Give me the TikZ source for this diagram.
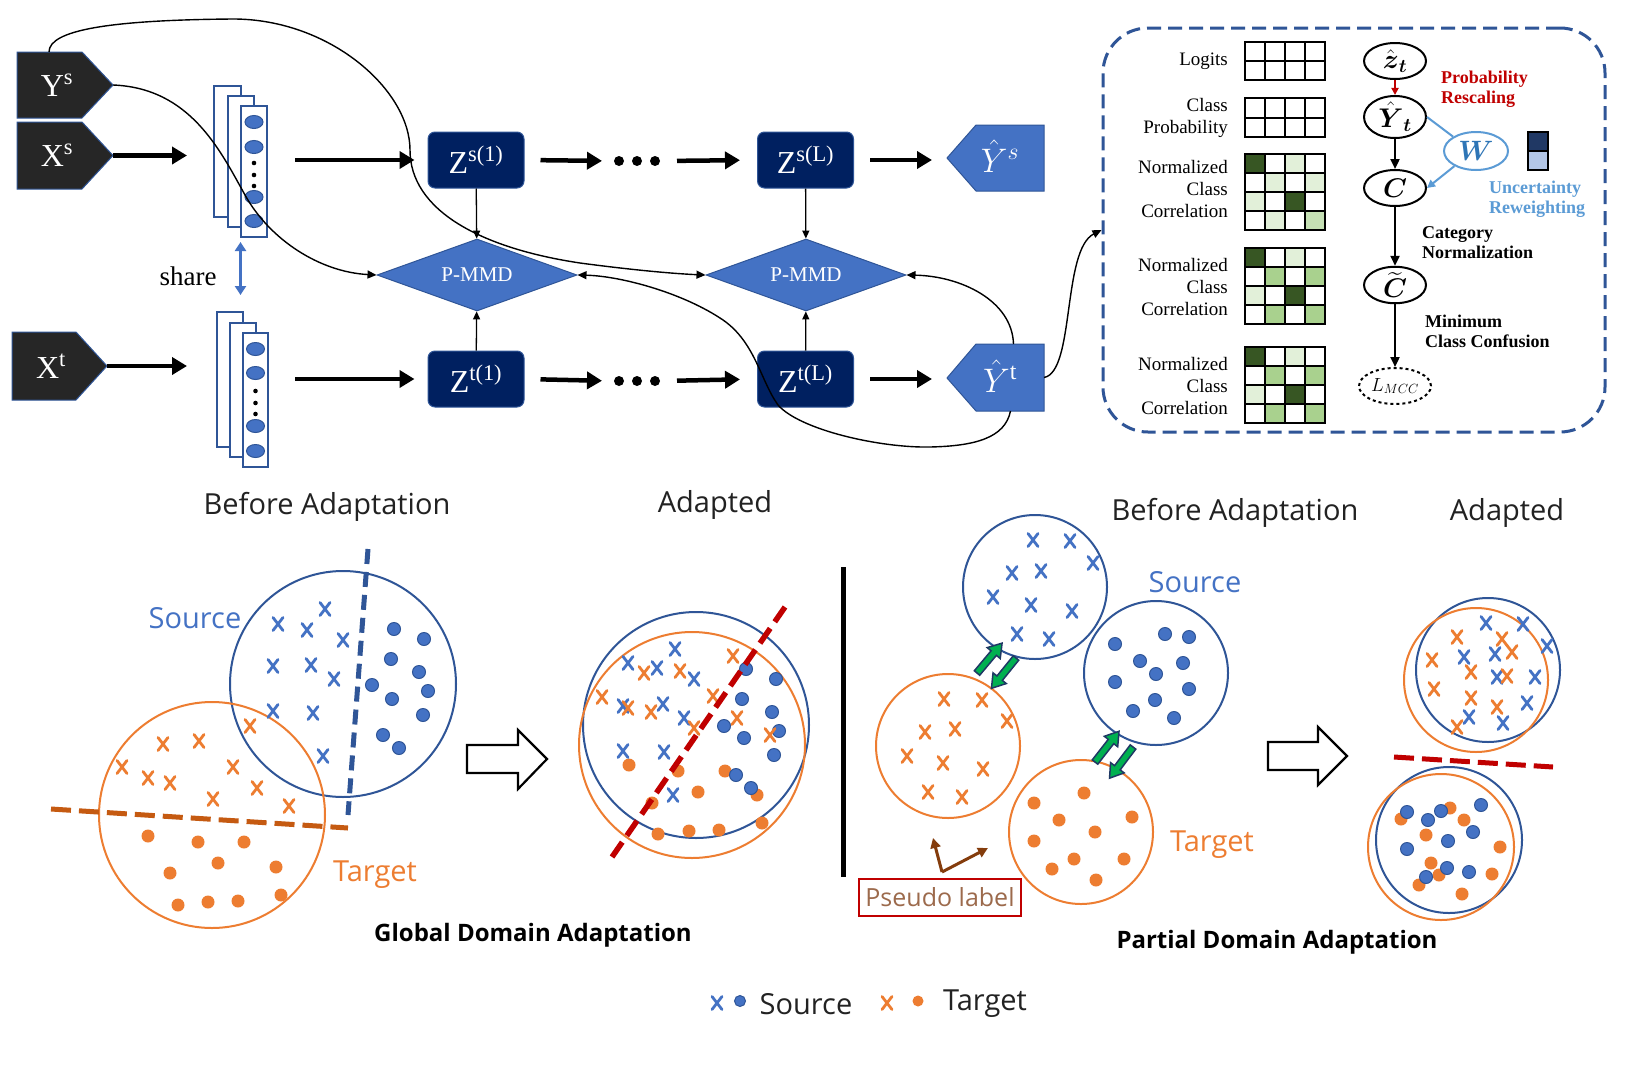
\RequirePackage{fix-cm}
\documentclass[tikz,border=0pt]{standalone}
\usepackage{amsmath}
\usepackage{fontspec}
\setmainfont{Liberation Serif}
\newfontfamily\sansf{Open Sans}
\usetikzlibrary{arrows.meta,calc,shapes.geometric}
\newcommand\fsz[1]{\fontsize{#1}{#1}\selectfont}
\definecolor{navy}{HTML}{002060}
\definecolor{bfill}{HTML}{4472C4}
\definecolor{bline}{HTML}{2F5597}
\definecolor{dk}{HTML}{262626}
\definecolor{org}{HTML}{ED7D31}
\definecolor{dorg}{HTML}{C55A11}
\definecolor{dred}{HTML}{C00000}
\definecolor{gdark}{HTML}{375623}
\definecolor{glight}{HTML}{E2F0D9}
\definecolor{gmed}{HTML}{A9D18E}
\definecolor{gmid}{HTML}{C5E0B4}
\definecolor{wblue}{HTML}{5B9BD5}
\definecolor{wblue2}{HTML}{2E75B6}
\definecolor{brn}{HTML}{843C0C}
\definecolor{grn}{HTML}{00B050}
\definecolor{gout}{HTML}{1F3864}
\definecolor{ptext}{HTML}{9C6A4C}
\definecolor{bardark}{HTML}{203864}
\definecolor{barlight}{HTML}{B4C7E7}
\definecolor{txtg}{HTML}{222222}
\begin{document}
\begin{tikzpicture}[x=1pt,y=-1pt,
  pent/.style={fill=dk, draw=bline, line width=1pt},
  bpent/.style={fill=bfill, draw=bline, line width=1pt},
  bb/.style={inner sep=0pt, outer sep=0pt},
  wtxt/.style={text=white, font=\fsz{32}, inner sep=0pt},
  zbox/.style={fill=navy, draw=bline, line width=1pt, rounded corners=7pt, minimum width=96pt, minimum height=56pt, text=white, font=\fsz{32}, inner sep=0pt},
  pmmd/.style={diamond, fill=bfill, draw=bline, line width=1pt, minimum width=200pt, minimum height=72pt, text=white, font=\fsz{21}, inner sep=0pt, aspect=2.7},
  bigarr/.style={line width=4.5pt, -{Triangle[length=15pt,width=17pt]}},
  thinarr/.style={line width=1.3pt, -{Triangle[length=8pt,width=7pt]}},
  curv/.style={line width=1.4pt, -{Triangle[length=9pt,width=8pt]}},
  stk/.style={fill=white, draw=bline, line width=1.5pt},
  neur/.style={fill=bfill, draw=bline, line width=1pt},
  ell/.style={ellipse, draw, line width=2pt, minimum width=62pt, minimum height=36pt, inner sep=0pt, font=\fsz{27}},
  blk/.style={line width=2.2pt, -{Triangle[length=10pt,width=9pt]}},
  lbl/.style={font=\fsz{19}, align=right, anchor=east, inner sep=0pt},
  blbl/.style={font=\bfseries\fsz{18}, align=left, anchor=west, inner sep=0pt},
  stitle/.style={font=\sansf\fsz{29}, text=txtg, inner sep=0pt},
  btitle/.style={font=\sansf\bfseries\fsz{24}, text=black, inner sep=0pt},
  xmk/.pic={\draw[line width=2.8pt, line cap=round] (-5,-6.5) -- (5,6.5) (-5,6.5) -- (5,-6.5);},
  garr/.pic={\filldraw[fill=grn, draw=gout, line width=1.5pt] (0,-3.5) -- (26,-3.5) -- (26,-8.5) -- (39,0) -- (26,8.5) -- (26,3.5) -- (0,3.5) -- cycle;},
]
\fill[white] (0,0) rectangle (1627,1071);
\useasboundingbox (0,0) rectangle (1627,1071);

% ---------- input pentagons ----------
\filldraw[pent] (17,52) -- (82,52) -- (113,85) -- (82,118) -- (17,118) -- cycle;
\node[bb, minimum width=96pt, minimum height=66pt] (Ys) at (65,85) {};
\node[wtxt] (YsT) at (57,85) {Y\textsuperscript{s}};
\filldraw[pent] (17,122) -- (82,122) -- (113,155.5) -- (82,189) -- (17,189) -- cycle;
\node[bb, minimum width=96pt, minimum height=67pt] (Xs) at (65,155.5) {};
\node[wtxt] (XsT) at (57,155) {X\textsuperscript{s}};
\filldraw[pent] (12,332) -- (76,332) -- (107,366) -- (76,400) -- (12,400) -- cycle;
\node[bb, minimum width=95pt, minimum height=68pt] (Xt) at (59.5,366) {};
\node[wtxt] (XtT) at (51,366) {X\textsuperscript{t}};

% ---------- stacks ----------
\filldraw[stk] (214,86) rectangle (241,217);
\filldraw[stk] (228,96) rectangle (254,227);
\filldraw[stk] (241,106) rectangle (267,237);
\foreach \yy in {122,147,197,221} \filldraw[neur] (254,\yy) ellipse (9pt and 6.5pt);
\foreach \yy in {163,175,186} \fill (254,\yy) circle (2.3pt);
\node[bb, minimum width=53pt, minimum height=151pt] (Ss) at (240.5,161.5) {};
\filldraw[stk] (217,312) rectangle (243,447);
\filldraw[stk] (230,323) rectangle (256,457);
\filldraw[stk] (243,333) rectangle (268,467);
\foreach \yy in {349,373,426,451} \filldraw[neur] (255.5,\yy) ellipse (9pt and 6.5pt);
\foreach \yy in {391,403,414} \fill (255.5,\yy) circle (2.3pt);
\node[bb, minimum width=51pt, minimum height=155pt] (St) at (242.5,389.5) {};
\draw[bfill, line width=3pt, {Triangle[length=9pt,width=11pt]}-{Triangle[length=9pt,width=11pt]}, shorten <=5pt, shorten >=17pt] (Ss.south) -- (Ss.south |- St.north);
\node[font=\fsz{27}, inner sep=0pt] (share) at (188,276) {share};

% ---------- Z boxes, P-MMD ----------
\node[zbox] (Zs1) at (476,160) {Z\textsuperscript{s(1)}};
\node[zbox] (ZsL) at (805.5,160) {Z\textsuperscript{s(L)}};
\node[zbox] (Zt1) at (476,379) {Z\textsuperscript{t(1)}};
\node[zbox] (ZtL) at (805.5,379) {Z\textsuperscript{t(L)}};
\node[pmmd] (P1) at (477,275) {P-MMD};
\node[pmmd] (P2) at (806,275) {P-MMD};
\node[bb, minimum width=50pt, minimum height=12pt] (dS) at (637,161) {};
\node[bb, minimum width=50pt, minimum height=12pt] (dT) at (637,381) {};
\foreach \xx in {619,637,655} {\fill (\xx,161) circle (5pt); \fill (\xx,381) circle (5pt);}

% ---------- output pentagons ----------
\filldraw[bpent] (947,158) -- (976,125) -- (1044,125) -- (1044,191) -- (976,191) -- cycle;
\node[bb, minimum width=97pt, minimum height=66pt] (Yhs) at (995.5,158) {};
\node[inner sep=0pt, text=white, font=\fsz{34}] (YhsT) at (1000,156) {$\hat{Y}^{s}$};
\filldraw[bpent] (947,378) -- (976,344) -- (1044,344) -- (1044,411) -- (976,411) -- cycle;
\node[bb, minimum width=97pt, minimum height=67pt] (Yht) at (995.5,377.5) {};
\node[inner sep=0pt, text=white, font=\fsz{34}] (YhtT) at (1000,376) {$\hat{Y}^{\mathrm{t}}$};

% ---------- thick arrows ----------
\draw[bigarr, shorten >=27pt] (Xs.east) -- (Xs.east -| Ss.west);
\draw[bigarr, shorten <=28pt, shorten >=13pt] (Ss.east |- Zs1.west) -- (Zs1.west);
\draw[bigarr, shorten >=30pt] (Xt.east) -- (Xt.east -| St.west);
\draw[bigarr, shorten <=27pt, shorten >=13pt] (St.east |- Zt1.west) -- (Zt1.west);
\draw[bigarr, shorten <=16pt, shorten >=10pt] (Zs1.east) -- (dS.west);
\draw[bigarr, shorten <=15pt, shorten >=17pt] (dS.east) -- (ZsL.west);
\draw[bigarr, shorten <=16pt, shorten >=15pt] (ZsL.east) -- (ZsL.east -| Yhs.west);
\draw[bigarr, shorten <=16pt, shorten >=10pt] (Zt1.east) -- (dT.west);
\draw[bigarr, shorten <=15pt, shorten >=17pt] (dT.east) -- (ZtL.west);
\draw[bigarr, shorten <=16pt, shorten >=15pt] (ZtL.east) -- (ZtL.east -| Yht.west);

% ---------- thin arrows ----------
\draw[thinarr] (Zs1) -- (P1);
\draw[thinarr] (Zt1) -- (P1);
\draw[thinarr] (ZsL) -- (P2);
\draw[thinarr] (ZtL) -- (P2);

% ---------- curves ----------
\draw[curv] ($(Ys.north)+(-16pt,0pt)$) .. controls (49,30) and (110,20) .. (233,19)
  .. controls (330,19) and (410,90) .. (410,150)
  .. controls (410,210) and (480,248) .. (580,263)
  .. controls (640,271) and (680,274) .. (P2.west);
\draw[curv] (Ys.east) .. controls (190,88) and (220,150) .. (245,195)
  .. controls (270,240) and (320,272) .. (P1.west);
\draw[curv] ($(Yht.south)+(15pt,0pt)$) .. controls (1005,438) and (975,446) .. (930,447)
  .. controls (880,448) and (800,430) .. (778,405)
  .. controls (760,380) and (755,340) .. (720,318)
  .. controls (680,292) and (620,276) .. (P1.east);
\draw[curv] ($(Yht.north)+(18pt,0pt)$) .. controls (1012,300) and (960,276) .. (P2.east);

% ---------- right box ----------
\node[draw=bline, dashed, dash pattern=on 14pt off 7pt, line width=3pt, rounded corners=45pt, minimum width=502pt, minimum height=404pt, inner sep=0pt] (box) at (1354,230) {};
\draw[curv] (Yht.east) .. controls (1075,372) and (1062,250) .. (box.west);

% grids
\foreach \k in {0,...,4} {\draw[line width=2pt] (1245+\k*20,42) -- ++(0,38); \draw[line width=2pt] (1245+\k*20,98) -- ++(0,39);}
\foreach \k in {0,1,2} {\draw[line width=2pt] (1244,42+\k*19) -- ++(82,0); \draw[line width=2pt] (1244,98+\k*19.5) -- ++(82,0);}
\foreach \tp/\cols in {154/{gdark,white,glight,white,white,glight,white,glight,glight,white,gdark,white,white,glight,white,gmid},
                       248/{gdark,white,glight,white,white,gmed,white,gmed,glight,white,gdark,white,white,gmed,white,gmed},
                       347/{gdark,white,glight,white,white,gmed,white,gmed,glight,white,gdark,white,white,gmed,white,gmed}} {
  \foreach \cc [count=\i from 0] in \cols {
    \pgfmathtruncatemacro{\cx}{mod(\i,4)}
    \pgfmathtruncatemacro{\cy}{div(\i,4)}
    \fill[\cc] (1245+\cx*20,\tp+\cy*19) rectangle ++(20,19);
  }
  \foreach \k in {0,...,4} {\draw[line width=2pt] (1245+\k*20,\tp) -- ++(0,76); \draw[line width=2pt] (1244,\tp+\k*19) -- ++(82,0);}
}
\node[lbl] (lgt) at (1228,61) {Logits};
\node[lbl, font=\fsz{19}] (lcp) at (1228,118) {Class\\[3pt]Probability};
\node[lbl] (ln1) at (1228,189) {Normalized\\[3pt]Class\\[3pt]Correlation};
\node[lbl] (ln2) at (1228,287) {Normalized\\[3pt]Class\\[3pt]Correlation};
\node[lbl] (ln3) at (1228,386) {Normalized\\[3pt]Class\\[3pt]Correlation};

% right column
\node[ell] (zt) at (1395,61) {$\hat{\boldsymbol z}_{\boldsymbol t}$};
\node[ell] (yt) at (1395,117) {$\hat{\boldsymbol Y}_{\boldsymbol t}$};
\node[ell] (cc) at (1395,188) {$\boldsymbol C$};
\node[ell] (ct) at (1395,285) {$\widetilde{\boldsymbol C}$};
\node[ell, dashed, minimum width=72pt, font=\fsz{19}] (lm) at (1395,386) {$L_{MCC}$};
\draw[dred, line width=1.8pt, -{Triangle[length=7pt,width=7pt]}] (zt) -- (yt);
\draw[blk] (yt) -- (cc);
\draw[blk] (cc) -- (ct);
\draw[blk] (ct) -- (lm);
\node[ellipse, draw=wblue, line width=2pt, minimum width=64pt, minimum height=38pt, inner sep=0pt, text=wblue2, font=\fsz{28}] (W) at (1476,151) {$\boldsymbol W$};
\draw[wblue, line width=2pt] (yt.east) -- (W.148);
\draw[wblue, line width=2pt, -{Triangle[length=8pt,width=8pt]}] (W.215) -- (cc.east);
\filldraw[fill=bardark, draw=black, line width=1.2pt] (1528,132) rectangle (1548,151);
\filldraw[fill=barlight, draw=black, line width=1.2pt] (1528,151) rectangle (1548,170);
\node[blbl, text=dred] (tpr) at (1441,89) {Probability\\[2pt]Rescaling};
\node[blbl, text=wblue] (tur) at (1489,199) {Uncertainty\\[2pt]Reweighting};
\node[blbl] (tcn) at (1422,243) {Category\\[2pt]Normalization};
\node[blbl] (tmc) at (1425,331) {Minimum\\[2pt]Class Confusion};

% ---------- bottom titles ----------
\node[stitle] (tba1) at (327,507) {Before Adaptation};
\node[stitle] (tad1) at (715,505) {Adapted};
\node[stitle] (tba2) at (1235,513) {Before Adaptation};
\node[stitle] (tad2) at (1507,513) {Adapted};
\node[btitle] (tgda) at (533,935) {Global Domain Adaptation};
\node[btitle] (tpda) at (1277,942) {Partial Domain Adaptation};

% ---------- global: before ----------
\draw[bline, line width=2pt] (343,684) circle (113pt);
\draw[org, line width=2pt] (212,815) circle (113pt);
\draw[bline, line width=5pt, dash pattern=on 15pt off 8pt] (368,549) -- (348,815);
\draw[dorg, line width=5pt, dash pattern=on 20pt off 8pt] (51,809) -- (348,828);
\foreach \p in {(278,624),(307,630),(325,609),(343,640),(273,666),(311,665),(334,679),(273,711),(313,713),(323,756)} \pic[bfill] at \p {xmk};
\foreach \p in {(394,629),(424,639),(391,659),(419,672),(372,685),(428,691),(392,699),(423,715),(383,735),(399,748)} \filldraw[neur] \p circle (6.5pt);
\foreach \p in {(250,726),(163,744),(199,741),(122,767),(148,778),(170,783),(233,767),(257,788),(213,799),(289,806)} \pic[org] at \p {xmk};
\foreach \p in {(148,836),(198,842),(244,842),(170,873),(218,863),(276,867),(178,905),(208,902),(238,901),(281,895)} \fill[org] \p circle (6.5pt);
\node[stitle, text=bfill] (srcL) at (195,618) {Source};
\node[stitle, text=org] (tgtL) at (375,875) {Target};

\draw[line width=2.2pt, fill=white] (467,745) -- (518,745) -- (518,730) -- (547,759) -- (518,789) -- (518,773) -- (467,773) -- cycle;

% ---------- global: adapted ----------
\draw[bline, line width=2pt] (696,725) circle (113pt);
\draw[org, line width=2pt] (692,745) circle (113pt);
\foreach \p in {(629,765),(678,771),(725,771),(698,792),(652,803),(757,795),(658,834),(689,831),(719,830),(762,823)} \fill[org] \p circle (6.5pt);
\foreach \p in {(746,669),(776,679),(742,699),(772,712),(724,726),(779,731),(744,738),(774,755),(736,775),(751,788)} \filldraw[neur] \p circle (6.5pt);
\foreach \p in {(628,663),(657,668),(675,649),(694,679),(623,706),(663,704),(684,718),(623,751),(664,752),(673,795)} \pic[bfill] at \p {xmk};
\foreach \p in {(644,673),(680,671),(733,656),(602,697),(628,708),(651,712),(713,696),(694,728),(737,718),(770,735)} \pic[org] at \p {xmk};
\draw[dred, line width=5.5pt, dash pattern=on 18pt off 8pt] (785,607) -- (612,857);

\draw[line width=5pt] (843,567) -- (843,877);

% ---------- partial: before ----------
\draw[bline, line width=2pt] (1035,587) circle (72pt);
\draw[bline, line width=2pt] (1156,673) circle (72pt);
\draw[org, line width=2pt] (948,746) circle (72pt);
\draw[org, line width=2pt] (1081,832) circle (72pt);
\foreach \p in {(1033,540),(1070,541),(1093,563),(1012,573),(1041,571),(993,597),(1031,605),(1072,611),(1017,634),(1049,639)} \pic[bfill] at \p {xmk};
\foreach \p in {(1115,644),(1165,634),(1189,637),(1140,661),(1183,663),(1156,674),(1115,682),(1189,689),(1155,700),(1133,711),(1174,718)} \filldraw[neur] \p circle (6.5pt);
\foreach \p in {(944,699),(982,700),(1007,721),(925,732),(955,729),(907,756),(943,763),(983,769),(928,792),(962,797)} \pic[org] at \p {xmk};
\foreach \p in {(1034,803),(1084,793),(1132,817),(1059,820),(1095,832),(1034,841),(1074,859),(1124,859),(1052,869),(1096,880)} \fill[org] \p circle (6.5pt);
\pic[rotate=50] at (977,673) {garr};
\pic[rotate=231] at (1016,658) {garr};
\pic[rotate=52] at (1095,762) {garr};
\pic[rotate=233] at (1133,747) {garr};
\node[stitle, text=bfill] (srcP) at (1195,582) {Source};
\node[stitle, text=org] (tgtP) at (1212,845) {Target};
\coordinate (pb) at (942,872);
\coordinate (pu) at (933,838);
\coordinate (pr) at (988,848);
\draw[brn, line width=3pt, -{Triangle[length=10pt,width=10pt]}] (pb) -- (pu);
\draw[brn, line width=3pt, -{Triangle[length=10pt,width=10pt]}] (pb) -- (pr);
\node[draw=dred, line width=2pt, font=\sansf\fsz{25}, text=ptext, minimum width=162pt, minimum height=37pt, inner sep=0pt] (pl) at (940,897.5) {Pseudo label};

\draw[line width=2.2pt, fill=white] (1268,742) -- (1318,742) -- (1318,727) -- (1347,756) -- (1318,785) -- (1318,770) -- (1268,770) -- cycle;

% ---------- partial: adapted ----------
\draw[bline, line width=2pt] (1488,670) circle (72pt);
\draw[org, line width=2pt] (1476,680) circle (72pt);
\foreach \p in {(1486,623),(1523,624),(1547,646),(1464,657),(1495,654),(1497,677),(1535,677),(1527,703),(1469,717),(1503,723)} \pic[bfill] at \p {xmk};
\foreach \p in {(1457,637),(1502,639),(1512,652),(1432,660),(1471,672),(1507,676),(1434,689),(1471,698),(1497,707),(1457,727)} \pic[org] at \p {xmk};
\draw[dred, line width=5pt, dash pattern=on 20pt off 8pt] (1394,757) -- (1553,767);
\draw[bline, line width=2pt] (1449,840) circle (73pt);
\draw[org, line width=2pt] (1441,847) circle (73pt);
\foreach \p in {(1401,819),(1450,808),(1464,820),(1426,835),(1500,847),(1431,863),(1439,875),(1419,885),(1492,874),(1462,894)} \fill[org] \p circle (6.5pt);
\foreach \p in {(1407,812),(1441,811),(1481,805),(1428,820),(1473,832),(1448,841),(1407,849),(1447,868),(1469,872),(1426,877)} \filldraw[neur] \p circle (6.5pt);

% ---------- legend ----------
\pic[bfill] at (717,1003) {xmk};
\filldraw[neur] (740,1001) circle (5.5pt);
\node[stitle] (lsrc) at (806,1004) {Source};
\pic[org] at (887,1003) {xmk};
\fill[org] (918,1001) circle (5.5pt);
\node[stitle] (ltgt) at (985,1004) {Target};
\end{tikzpicture}
\end{document}
